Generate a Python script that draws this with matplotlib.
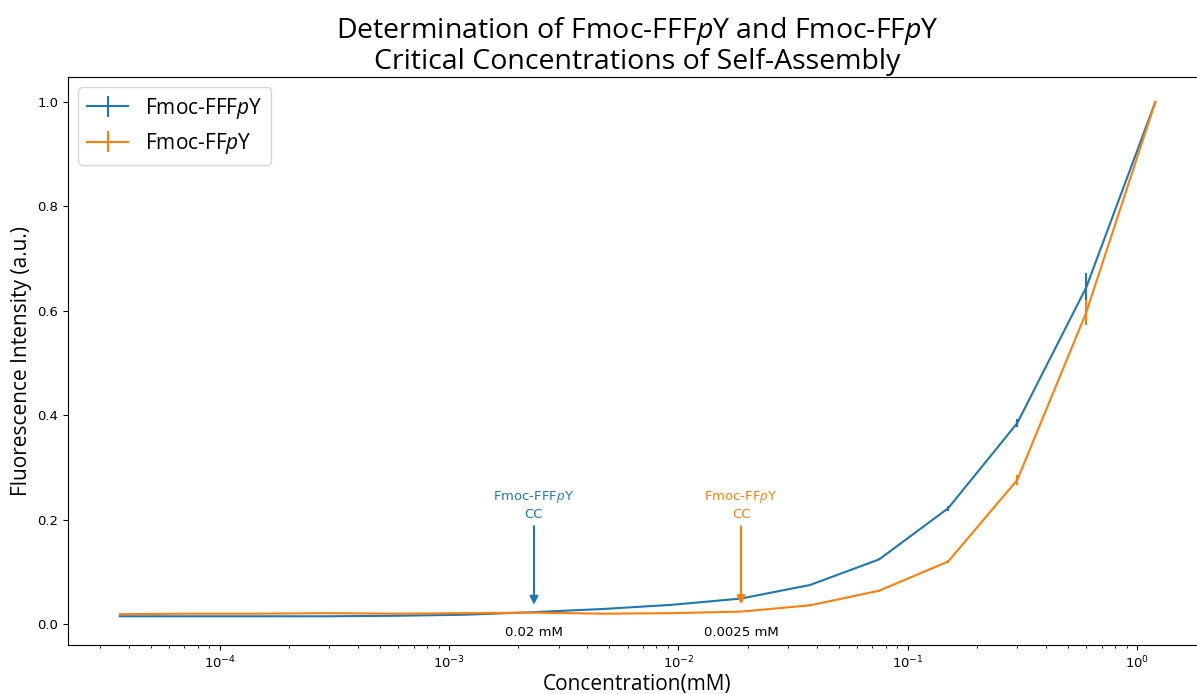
import numpy as np
import matplotlib
matplotlib.use("Agg")
import matplotlib.pyplot as plt

# Mathtext italics in Open Sans to match title/legend
plt.rcParams['mathtext.fontset'] = 'custom'
plt.rcParams['mathtext.rm'] = 'Open Sans'
plt.rcParams['mathtext.it'] = 'Open Sans:italic'

# Serial 2-fold dilution from 1.2 mM (mM)
conc = [1.2, 0.6, 0.3, 0.15, 0.075, 0.0375, 0.01875, 0.009375,
        0.0046875, 0.00234375, 0.001171875, 0.000585938, 0.000292969,
        0.000146484, 7.3242e-05, 3.6621e-05]

# Normalised fluorescence intensity
fffpy = [1.0, 0.645, 0.385, 0.222, 0.124, 0.075, 0.049, 0.037,
         0.029, 0.023, 0.018, 0.016, 0.015, 0.015, 0.015, 0.015]
fffpy_err = [0.0, 0.027, 0.007, 0.005, 0.002, 0.002, 0.002, 0.001,
             0.001, 0.001, 0.001, 0.001, 0.001, 0.001, 0.001, 0.001]

ffpy = [1.0, 0.597, 0.276, 0.120, 0.064, 0.036, 0.024, 0.021,
        0.020, 0.022, 0.021, 0.020, 0.021, 0.020, 0.020, 0.019]
ffpy_err = [0.0, 0.024, 0.010, 0.002, 0.002, 0.002, 0.001, 0.001,
            0.001, 0.001, 0.001, 0.001, 0.001, 0.001, 0.001, 0.001]

# Critical concentration markers (arrow x, arrow tip y, text, colour)
cc_x = [0.00234375, 0.01875]
cc_tip = [0.037, 0.038]
cc_text = ["Fmoc-FFF$\\it{p}$Y\nCC", "Fmoc-FF$\\it{p}$Y\nCC"]
cc_label = ["0.02 mM", "0.0025 mM"]
colors = ["#1f77b4", "#ff7f0e"]

fig = plt.figure(figsize=(11.97, 6.94), dpi=100)
ax = fig.add_axes([0.0568, 0.0706, 0.9516, 0.8184])

ax.errorbar(conc, fffpy, yerr=fffpy_err, color=colors[0], label="Fmoc-FFF$\\it{p}$Y")
ax.errorbar(conc, ffpy, yerr=ffpy_err, color=colors[1], label="Fmoc-FF$\\it{p}$Y")
ax.set_xscale("log")
ax.set_ylim(-0.04, 1.048)

for x, tip, txt, lab, c in zip(cc_x, cc_tip, cc_text, cc_label, colors):
    ax.annotate(txt, xy=(x, tip), xytext=(x, 0.198), ha="center", va="bottom",
                color=c, fontsize=9.5, linespacing=1.3,
                arrowprops=dict(arrowstyle="-|>", color=c, lw=1.5,
                                shrinkA=2, shrinkB=0, mutation_scale=12))
    ax.text(x, -0.016, lab, ha="center", va="center", fontsize=9.5)

ax.tick_params(labelsize=9.5)
ax.set_xlabel("Concentration(mM)", fontsize=15, family="Open Sans", labelpad=2)
ax.set_ylabel("Fluorescence Intensity (a.u.)", fontsize=15, family="Open Sans")
ax.set_title("Determination of Fmoc-FFF$\\it{p}$Y and Fmoc-FF$\\it{p}$Y\n"
             "Critical Concentrations of Self-Assembly",
             fontsize=20.5, family="Open Sans", pad=6, linespacing=1.05)
ax.legend(loc="upper left", prop={"family": "Open Sans", "size": 15})

fig.savefig("out.png", dpi=100)
